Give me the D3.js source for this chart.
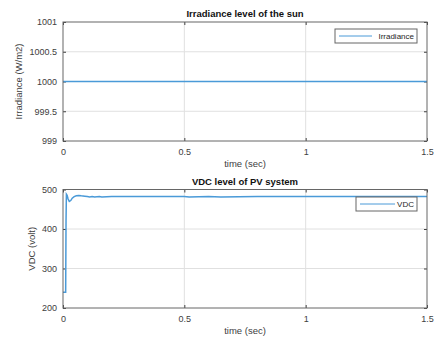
<!DOCTYPE html>
<html>
<head>
<meta charset="utf-8">
<script src="https://cdn.jsdelivr.net/npm/d3@7"></script>
<style>
body { margin: 0; background: #fff; }
text { font-family: "Liberation Sans", Arial, sans-serif; }
.tick text { font-size: 9px; fill: #404040; }
.tick line { stroke: #404040; }
.domain { display: none; }
.grid line { stroke: #e0e0e0; stroke-width: 1; }
.title { font-size: 9.5px; font-weight: bold; fill: #111; }
.label { font-size: 9.5px; fill: #404040; }
.legend text { font-size: 8px; fill: #262626; }
</style>
</head>
<body>
<div id="chart"></div>
<script>
// irradiance series
var irrTime = [0, 1.5];
var irrValues = [1000, 1000];
var irrTicks = [999, 999.5, 1000, 1000.5, 1001];

// dc link voltage series
var vdcTime = [0, 0.011, 0.0125, 0.014, 0.017, 0.021, 0.026, 0.032, 0.038, 0.046, 0.055, 0.065, 0.075, 0.09, 0.1, 0.11, 0.12, 0.13, 0.15, 0.16, 0.2, 0.5, 0.52, 0.6, 0.65, 0.8, 1.0, 1.5];
var vdcValues = [240, 240, 420, 488, 485, 476, 470, 472, 478, 482, 484, 485, 484, 483, 482, 481, 482, 481, 482, 481, 482, 482, 481, 482, 481, 482, 482, 482];
var vdcTicks = [200, 300, 400, 500];

var timeTicks = [0, 0.5, 1, 1.5];

var width = 438, height = 343;
var lineColor = "#4a9ad8";
var svg = d3.select("#chart").append("svg")
    .attr("width", width)
    .attr("height", height);

function drawPanel(opt) {
    var x = d3.scaleLinear().domain([0, 1.5]).range([63, 427]);
    var y = d3.scaleLinear().domain(opt.yDomain).range([opt.bottom, opt.top]);
    var g = svg.append("g");

    // grid
    var grid = g.append("g").attr("class", "grid");
    grid.selectAll(".gx").data(timeTicks.slice(1, -1)).enter().append("line")
        .attr("x1", function (d) { return x(d); }).attr("x2", function (d) { return x(d); })
        .attr("y1", opt.top).attr("y2", opt.bottom);
    grid.selectAll(".gy").data(opt.ticks.slice(1, -1)).enter().append("line")
        .attr("y1", function (d) { return y(d); }).attr("y2", function (d) { return y(d); })
        .attr("x1", 63).attr("x2", 427);

    // axes, ticks inside
    g.append("g")
        .attr("transform", "translate(0," + opt.bottom + ")")
        .call(d3.axisBottom(x).tickValues(timeTicks).tickSizeInner(-3).tickSizeOuter(0).tickPadding(8)
            .tickFormat(function (d) { return d; }));
    g.append("g")
        .attr("transform", "translate(0," + opt.top + ")")
        .call(d3.axisTop(x).tickValues(timeTicks).tickSizeInner(-3).tickSizeOuter(0).tickFormat(""));
    g.append("g")
        .attr("transform", "translate(63,0)")
        .call(d3.axisLeft(y).tickValues(opt.ticks).tickSizeInner(-3).tickSizeOuter(0).tickPadding(6)
            .tickFormat(function (d) { return d; }));
    g.append("g")
        .attr("transform", "translate(427,0)")
        .call(d3.axisRight(y).tickValues(opt.ticks).tickSizeInner(-3).tickSizeOuter(0).tickFormat(""));

    // line
    var line = d3.line()
        .x(function (d, i) { return x(opt.xs[i]); })
        .y(function (d) { return y(d); });
    g.append("path")
        .datum(opt.ys)
        .attr("fill", "none")
        .attr("stroke", lineColor)
        .attr("stroke-width", 1.5)
        .attr("d", line);

    // box
    g.append("rect")
        .attr("x", 63).attr("y", opt.top)
        .attr("width", 364).attr("height", opt.bottom - opt.top)
        .attr("fill", "none").attr("stroke", "#666").attr("stroke-width", 1);

    g.append("text").attr("class", "title")
        .attr("x", 245).attr("y", opt.top - 5)
        .attr("text-anchor", "middle").text(opt.title);
    g.append("text").attr("class", "label")
        .attr("x", 245).attr("y", opt.bottom + 26)
        .attr("text-anchor", "middle").text("time (sec)");
    g.append("text").attr("class", "label")
        .attr("transform", "translate(" + opt.ylabelX + "," + (opt.top + opt.bottom) / 2 + ") rotate(-90)")
        .attr("text-anchor", "middle").text(opt.ylabel);

    // legend
    var lg = g.append("g").attr("class", "legend");
    lg.append("rect")
        .attr("x", opt.legend[0]).attr("y", opt.legend[1])
        .attr("width", 417 - opt.legend[0]).attr("height", 14)
        .attr("fill", "#fff").attr("stroke", "#666");
    lg.append("line")
        .attr("x1", opt.legend[0] + 4).attr("x2", opt.legend[0] + 4 + opt.legend[2])
        .attr("y1", opt.legend[1] + 7).attr("y2", opt.legend[1] + 7)
        .attr("stroke", lineColor).attr("stroke-width", 1);
    lg.append("text")
        .attr("x", 414).attr("y", opt.legend[1] + 10)
        .attr("text-anchor", "end").text(opt.name);
}

drawPanel({
    top: 22, bottom: 141, yDomain: [999, 1001], ticks: irrTicks,
    xs: irrTime, ys: irrValues,
    title: "Irradiance level of the sun", ylabel: "Irradiance (W/m2)", ylabelX: 22,
    legend: [335, 29, 33], name: "Irradiance"
});

drawPanel({
    top: 189.5, bottom: 308, yDomain: [200, 500], ticks: vdcTicks,
    xs: vdcTime, ys: vdcValues,
    title: "VDC level of PV system", ylabel: "VDC (volt)", ylabelX: 35,
    legend: [356, 197, 35], name: "VDC"
});
</script>
</body>
</html>
